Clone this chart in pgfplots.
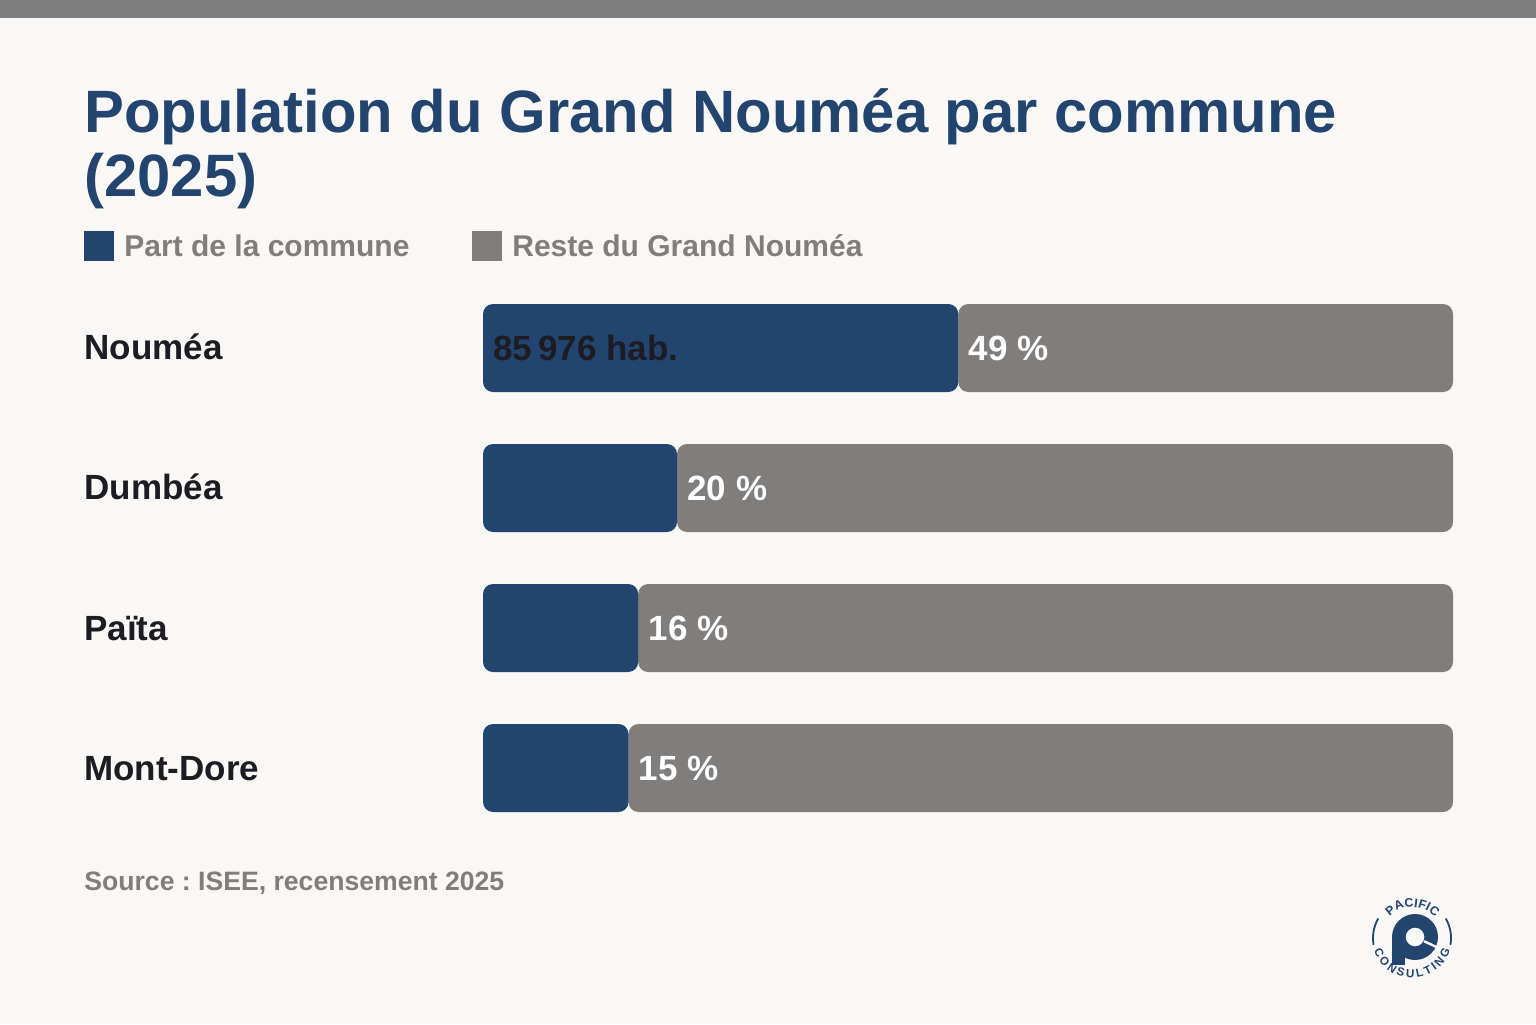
\documentclass[border=0pt]{standalone}
\usepackage{pgfplots}
\pgfplotsset{compat=1.18}
\usepackage{fontspec}
\setmainfont{Liberation Sans}
\usetikzlibrary{decorations.text}
\definecolor{bg}{HTML}{F9F8F6}
\definecolor{nblue}{HTML}{23446F}
\definecolor{ngray}{HTML}{7F7E7C}
\definecolor{topgray}{HTML}{7F7F7F}
\definecolor{ink}{HTML}{1C1C22}
\tikzset{vl/.style={anchor=base west, inner sep=0, xshift=5.5pt, yshift=-6.3pt, font=\fontsize{17.5}{20}\selectfont\bfseries}}
\frenchspacing
\begin{document}
\begin{tikzpicture}[x=0.5pt,y=0.5pt]
\fill[bg] (0,0) rectangle (1536,1024);
\fill[topgray] (0,1006) rectangle (1536,1024);
% title
\node[anchor=base west, inner sep=0, text=nblue, font=\fontsize{29.9}{32}\selectfont\bfseries] at (84,1024-133) {Population du Grand Nouméa par commune};
\node[anchor=base west, inner sep=0, text=nblue, font=\fontsize{29.9}{32}\selectfont\bfseries] at (84,1024-197) {(2025)};
% legend
\fill[nblue] (84,1024-261) rectangle (114,1024-231);
\node[anchor=base west, inner sep=0, text=ngray, font=\fontsize{15}{18}\selectfont\bfseries] at (124,1024-257) {Part de la commune};
\fill[ngray] (472,1024-261) rectangle (502,1024-231);
\node[anchor=base west, inner sep=0, text=ngray, font=\fontsize{15}{18}\selectfont\bfseries] at (512,1024-257) {Reste du Grand Nouméa};
% category labels
\foreach \lab/\yy in {Nouméa/360, Dumbéa/500, Païta/640, Mont-Dore/780}{
  \node[anchor=base west, inner sep=0, text=ink, font=\fontsize{17.5}{20}\selectfont\bfseries] at (84,1024-\yy) {\lab};
}
% source
\node[anchor=base west, inner sep=0, text=ngray, font=\fontsize{13.3}{16}\selectfont\bfseries] at (84,1024-890) {Source : ISEE, recensement 2025};
% chart
\begin{axis}[at={(241.5pt,93pt)}, anchor=south west, scale only axis,
  width=485pt, height=280pt, xbar stacked, bar width=44pt,
  xmin=0, xmax=100, ymin=-0.5, ymax=3.5, y dir=reverse,
  hide axis, clip=false]
\addplot[fill=nblue, draw=none, rounded corners=5pt] coordinates {(49,0) (20,1) (16,2) (15,3)};
\addplot[fill=ngray, draw=none, rounded corners=5pt] coordinates {(51,0) (80,1) (84,2) (85,3)};
\coordinate (s0) at (axis cs:0,0);
\coordinate (p0) at (axis cs:49,0);
\coordinate (p1) at (axis cs:20,1);
\coordinate (p2) at (axis cs:16,2);
\coordinate (p3) at (axis cs:15,3);
\end{axis}
\node[vl, text=ink, xshift=-0.5pt] at (s0) {85\,976 hab.};
\node[vl, text=white, xshift=-0.5pt] at (p0) {49 \%};
\node[vl, text=white, xshift=-0.5pt] at (p1) {20 \%};
\node[vl, text=white, xshift=-0.5pt] at (p2) {16 \%};
\node[vl, text=white, xshift=-0.5pt] at (p3) {15 \%};
% logo
\begin{scope}
\fill[nblue, even odd rule] (1415,87) circle[radius=11.5pt] (1415,87) circle[radius=4.7pt];
\fill[nblue] (1392,59) rectangle (1404.5,87);
\draw[bg, line width=1.2pt] (1415,87) ++(-25:5pt) -- ++(-25:8pt);
\draw[nblue, line width=0.9pt] (1412,86) ++(150:19.5pt) arc[start angle=150, end angle=190, radius=19.5pt];
\draw[nblue, line width=0.9pt] (1412,86) ++(-10:19.5pt) arc[start angle=-10, end angle=30, radius=19.5pt];
\path[decorate, decoration={text along path, text align={fit to path}, text={|\fontsize{6.2}{7}\selectfont\bfseries\color{nblue}|PACIFIC}}] (1412,86) ++(136:15.5pt) arc[start angle=136, end angle=42, radius=15.5pt];
\path[decorate, decoration={text along path, text align={fit to path}, text={|\fontsize{5.8}{7}\selectfont\bfseries\color{nblue}|CONSULTING}}] (1412,86) ++(198:20pt) arc[start angle=198, end angle=342, radius=20pt];
\end{scope}
\end{tikzpicture}
\end{document}
